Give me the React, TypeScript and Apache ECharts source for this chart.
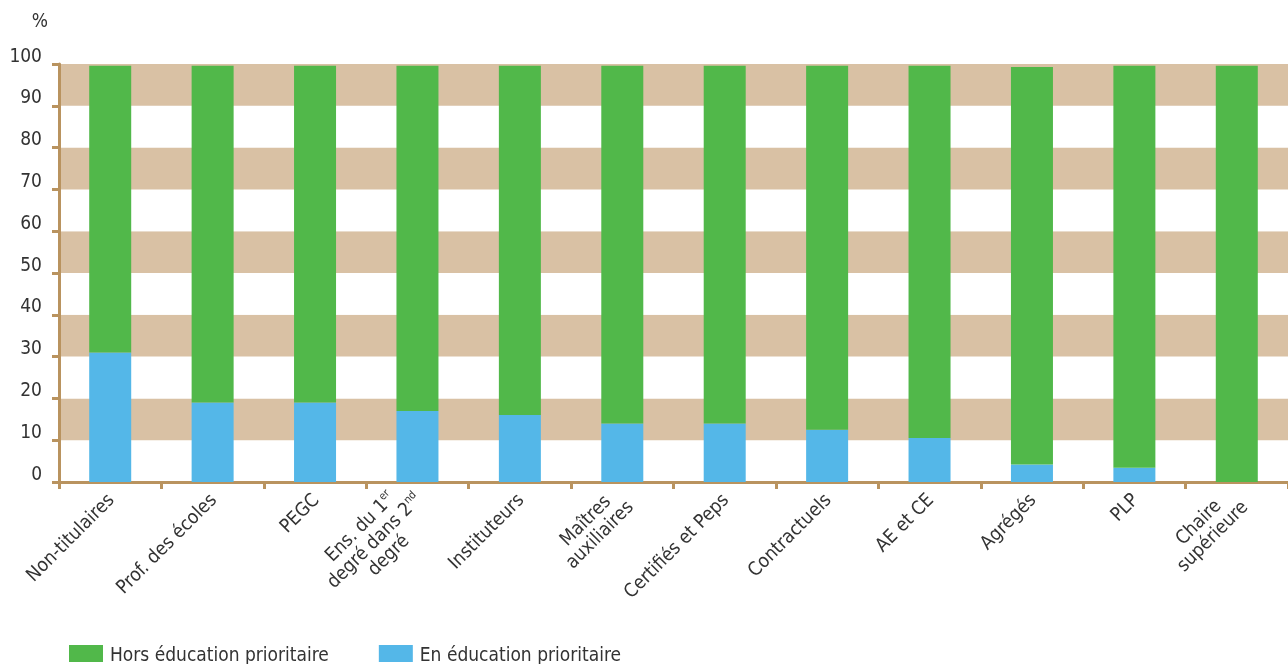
import React, { useEffect, useRef } from "react";
import * as echarts from "echarts";

const categories = [
  "Non-titulaires",
  "Prof. des écoles",
  "PEGC",
  "Ens. du 1er\ndegré dans 2nd\ndegré",
  "Instituteurs",
  "Maîtres\nauxiliaires",
  "Certifiés et Peps",
  "Contractuels",
  "AE et CE",
  "Agrégés",
  "PLP",
  "Chaire\nsupérieure",
];
const enEducationPrioritaire = [31, 19, 19, 17, 16, 14, 14, 12.5, 10.5, 4.2, 3.4, 0];
const horsEducationPrioritaire = [68.6, 80.6, 80.6, 82.6, 83.6, 85.6, 85.6, 87.1, 89.1, 95.1, 96.2, 99.6];
const yTicks = [0, 10, 20, 30, 40, 50, 60, 70, 80, 90, 100];

const FONT = "'DejaVu Sans Condensed', 'Liberation Sans Narrow', 'Roboto', sans-serif";
const TAN = "#b9935f";

function formatCat(v: string): string {
  return v
    .split("\n")
    .map((line) =>
      line
        .split(/(1er|2nd)/)
        .filter((s) => s.length > 0)
        .map((s) => (s === "1er" ? "{c|1}{s|er}" : s === "2nd" ? "{c|2}{s|nd}" : `{c|${s}}`))
        .join("")
    )
    .join("\n");
}

export default function App() {
  const ref = useRef<HTMLDivElement>(null);
  useEffect(() => {
    if (!ref.current) return;
    const chart = echarts.init(ref.current, null, { renderer: "svg" });
    chart.setOption({
      animation: false,
      textStyle: { fontFamily: FONT },
      grid: { left: 59, right: -10, top: 64, bottom: 182, containLabel: false },
      legend: {
        left: 69,
        top: 644,
        padding: 0,
        itemWidth: 34,
        itemHeight: 17,
        itemGap: 50,
        icon: "rect",
        data: ["Hors éducation prioritaire", "En éducation prioritaire"],
        textStyle: { fontFamily: FONT, fontSize: 19, lineHeight: 19, color: "#333", padding: [0, 0, 0, 2] },
      },
      xAxis: {
        type: "category",
        data: categories,
        axisLine: { lineStyle: { color: TAN, width: 3 } },
        axisTick: { show: true, length: 7, lineStyle: { color: TAN, width: 3 }, alignWithLabel: false },
        axisLabel: {
          rotate: 45,
          interval: 0,
          margin: 14,
          color: "#333",
          fontSize: 19,
          fontFamily: FONT,
          formatter: (v: string) => formatCat(v),
          rich: {
            c: { align: "center", fontSize: 19, fontFamily: FONT, color: "#333", lineHeight: 20 },
            s: { align: "center", fontSize: 11, fontFamily: FONT, color: "#333", verticalAlign: "top", lineHeight: 20 },
          },
        },
      },
      yAxis: {
        type: "value",
        name: "%",
        nameLocation: "end",
        nameGap: 35,
        nameTextStyle: { fontFamily: FONT, fontSize: 19, color: "#333", align: "right", padding: [0, 11, 0, 0] },
        min: 0,
        max: 100,
        interval: 10,
        axisLine: { show: true, lineStyle: { color: TAN, width: 3 } },
        axisTick: { show: true, length: 7, lineStyle: { color: TAN, width: 3 } },
        axisLabel: {
          margin: 17,
          fontSize: 19,
          color: "#333",
          fontFamily: FONT,
          verticalAlign: "bottom",
          formatter: (v: number) => (yTicks.includes(v) ? String(v) : ""),
        },
        splitLine: { show: false },
        splitArea: { show: true, areaStyle: { color: ["#ffffff", "#d9c1a4"] } },
      },
      series: [
        {
          name: "En éducation prioritaire",
          type: "bar",
          stack: "total",
          barWidth: 42,
          data: enEducationPrioritaire,
          itemStyle: { color: "#54b7e8" },
        },
        {
          name: "Hors éducation prioritaire",
          type: "bar",
          stack: "total",
          barWidth: 42,
          data: horsEducationPrioritaire,
          itemStyle: { color: "#51b84a" },
        },
      ],
    });
    return () => chart.dispose();
  }, []);
  return (
    <div
      ref={ref}
      style={{ position: "fixed", left: 0, top: 0, width: 1288, height: 664, overflow: "hidden" }}
    />
  );
}
